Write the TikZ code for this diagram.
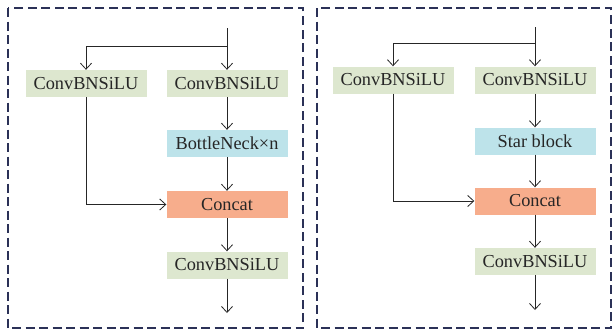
\documentclass[tikz,border=0pt]{standalone}
\usepackage{fontspec}
\setmainfont{Liberation Serif}
\usetikzlibrary{arrows.meta}
\definecolor{gbox}{HTML}{DDE7CF}
\definecolor{bbox}{HTML}{BDE3EA}
\definecolor{obox}{HTML}{F7AD8C}
\definecolor{frame}{HTML}{2B3157}
\begin{document}
\begin{tikzpicture}[x=1pt,y=-1pt,
  blk/.style={minimum width=121pt,minimum height=27pt,inner sep=0pt,font=\fontsize{18.3}{20}\selectfont,text=black!85},
  gb/.style={blk,fill=gbox},
  bb/.style={blk,fill=bbox},
  ob/.style={blk,fill=obox},
  conn/.style={line width=0.8pt,black!85,-{Straight Barb[length=6pt,width=11pt]}},
  ln/.style={line width=0.8pt,black!85},
  frm/.style={draw=frame,line width=2.8pt,dash pattern=on 9pt off 4.5pt}]
\useasboundingbox (0,0) rectangle (613,332);
% left panel
\draw[frm] (8,8) rectangle (303,328);
\coordinate (a0) at (227,28);
\coordinate (a1) at (227,46);
\coordinate (a2) at (86,46);
\node[gb] (l1) at (86,83.5) {ConvBNSiLU};
\node[gb] (r1) at (227,83.5) {ConvBNSiLU};
\node[bb] (bn) at (227,143.5) {BottleNeck×n};
\node[ob] (cc) at (227,204.5) {Concat};
\node[gb] (r2) at (227,265) {ConvBNSiLU};
\coordinate (aout) at (227,313);
\draw[ln] (a0) -- (a1) -- (a2);
\draw[conn] (a2) -- (l1.north);
\draw[conn] (a1) -- (r1.north);
\draw[conn] (r1) -- (bn);
\draw[conn] (bn) -- (cc);
\draw[conn] (l1.south) |- (cc.west);
\draw[conn] (cc) -- (r2);
\draw[conn] (r2.south) -- (aout);
% right panel
\draw[frm] (317,8) rectangle (611,328);
\coordinate (b0) at (535,27);
\coordinate (b1) at (535,43);
\coordinate (b2) at (393,43);
\node[gb] (L1) at (393,80) {ConvBNSiLU};
\node[gb] (R1) at (535,80) {ConvBNSiLU};
\node[bb] (sb) at (535,141) {Star block};
\node[ob] (CC) at (535,201) {Concat};
\node[gb] (R2) at (535,261.5) {ConvBNSiLU};
\coordinate (bout) at (535,310);
\draw[ln] (b0) -- (b1) -- (b2);
\draw[conn] (b2) -- (L1.north);
\draw[conn] (b1) -- (R1.north);
\draw[conn] (R1) -- (sb);
\draw[conn] (sb) -- (CC);
\draw[conn] (L1.south) |- (CC.west);
\draw[conn] (CC) -- (R2);
\draw[conn] (R2.south) -- (bout);
\end{tikzpicture}
\end{document}
